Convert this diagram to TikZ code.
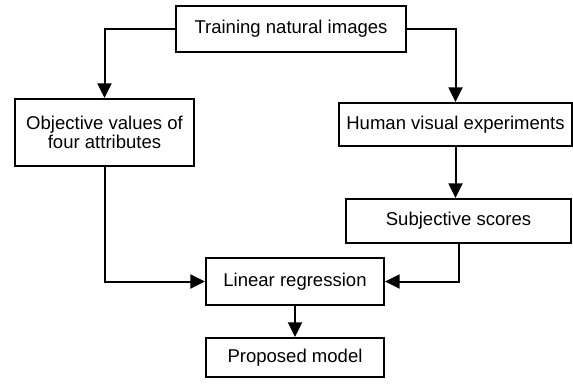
\documentclass[tikz,border=0pt]{standalone}
\usepackage{fontspec}
\setmainfont{Liberation Sans}
\usetikzlibrary{arrows.meta}

\begin{document}
\begin{tikzpicture}[x=0.75pt,y=0.75pt,yscale=-1,
	box/.style={draw,line width=1.5pt,inner sep=0pt,align=center,font=\fontsize{13.9}{13.9}\selectfont},
	arr/.style={line width=1.5pt,-{Triangle[length=11pt,width=10.5pt]}}]
	\useasboundingbox (0,0) rectangle (573,385);
	
	% Boxes
	\node [box,minimum width=172.5pt,minimum height=34.5pt] (train) at (291,29) {Training natural images};
	\node [box,minimum width=134.25pt,minimum height=50.25pt] (objective) at (104.5,132.5) {Objective values of\\four attributes};
	\node [box,minimum width=174.75pt,minimum height=32.25pt] (human) at (455.5,124.5) {Human visual experiments};
	\node [box,minimum width=168.75pt,minimum height=33pt] (subjective) at (458.5,221) {Subjective scores};
	\node [box,minimum width=133.5pt,minimum height=35.25pt] (regress) at (295,281.5) {Linear regression};
	\node [box,minimum width=133.5pt,minimum height=29.25pt] (model) at (295,357.5) {Proposed model};
	
	% Connectors
	\draw [arr] (train.west) -| (objective.north);
	\draw [arr] (train.east) -| (human.north);
	\draw [arr] (human.south) -- (human.south |- subjective.north);
	\draw [arr] (objective.south) |- (regress.west);
	\draw [arr] (subjective.south) |- (regress.east);
	\draw [arr] (regress.south) -- (model.north);
	
\end{tikzpicture}
\end{document}
